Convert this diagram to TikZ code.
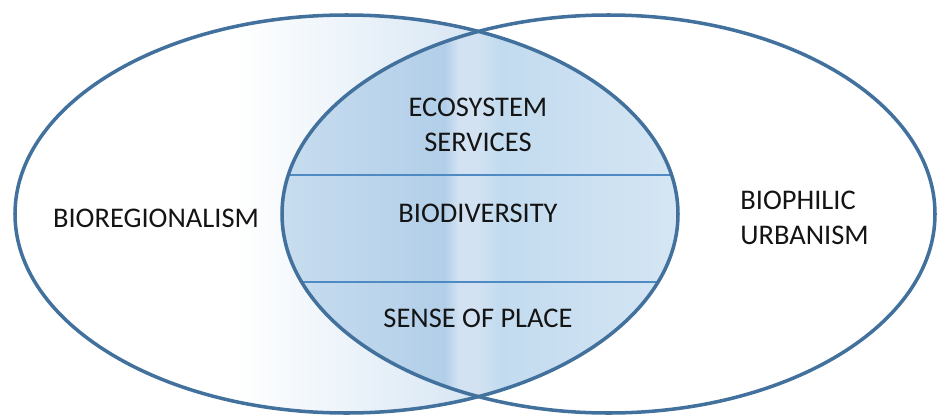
\documentclass[tikz,border=0pt]{standalone}
\usepackage{fontspec}
\setmainfont{Carlito}
\usetikzlibrary{backgrounds}
\definecolor{setblue}{RGB}{65,113,156}
\definecolor{divblue}{RGB}{80,138,194}
\definecolor{fadeend}{RGB}{212,228,243}
\definecolor{lensA}{RGB}{200,221,239}
\definecolor{lensB}{RGB}{178,207,233}
\definecolor{lensC}{RGB}{210,226,242}
\definecolor{lensD}{RGB}{194,219,239}
\definecolor{lensE}{RGB}{214,230,244}

\begin{document}
\begin{tikzpicture}[x=0.02cm,y=0.02cm,
  setline/.style={draw=setblue,line width=2pt},
  divider/.style={draw=divblue,line width=1.6pt},
  term/.style={font=\fontsize{16.2}{20}\selectfont,text=black!92,inner sep=0pt,align=center}]
\useasboundingbox (0,0) rectangle (937,417);
\coordinate (bioreg) at (346.5,203);
\coordinate (biophil) at (608.5,203);
% left set fades into blue towards the overlap
\begin{scope}
\clip (bioreg) ellipse [x radius=331.5,y radius=199];
\shade[left color=white,right color=fadeend] (235,0) rectangle (495,417);
\end{scope}
% overlap
\begin{scope}
\clip (bioreg) ellipse [x radius=331.5,y radius=199];
\clip (biophil) ellipse [x radius=326.5,y radius=199];
\shade[left color=lensA,right color=lensB] (278,0) rectangle (445.5,417);
\shade[left color=lensB,right color=lensC] (445,0) rectangle (458.5,417);
\fill[lensC] (458,0) rectangle (478.5,417);
\shade[left color=lensC,right color=lensD] (478,0) rectangle (500.5,417);
\shade[left color=lensD,right color=lensE] (500,0) rectangle (682,417);
\draw[divider] (270,242) -- (690,242);
\draw[divider] (270,135) -- (690,135);
\end{scope}
\draw[setline] (bioreg) ellipse [x radius=331.5,y radius=199];
\draw[setline] (biophil) ellipse [x radius=326.5,y radius=199];
\node[term] (bioregionalism) at (156,199) {BIOREGIONALISM};
\node[term] (ecoservices) at (478,292) {ECOSYSTEM\\SERVICES};
\node[term] (biodiversity) at (478,204) {BIODIVERSITY};
\node[term] (senseplace) at (478,99) {SENSE OF PLACE};
\node[term,anchor=west,align=left] (biophilic) at (740,199) {BIOPHILIC\\URBANISM};
\end{tikzpicture}
\end{document}
